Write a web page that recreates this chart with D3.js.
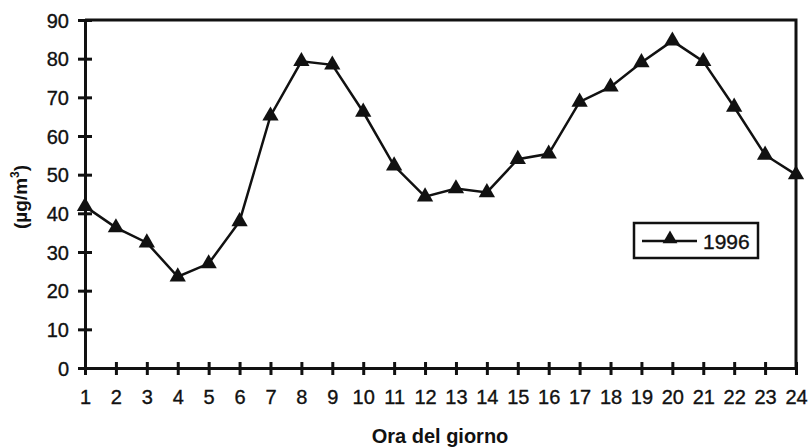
<!DOCTYPE html>
<html lang="it">
<head>
<meta charset="UTF-8">
<script src="https://d3js.org/d3.v7.min.js"></script>
<style>
  body { margin: 0; background: #fff; }
  svg text { font-family: "Liberation Sans", Arial, sans-serif; fill: #111; }
  .tick text { stroke: #111; stroke-width: 0.35px; }
  .line { fill: none; stroke: #111; stroke-width: 2.5px; }
</style>
</head>
<body>
<script>
// hours of the day and concentration values (µg/m3)
var hours = d3.range(1, 25);
var values1996 = [41.8, 36.3, 32.4, 23.6, 27, 37.9, 65.2, 79.3, 78.4, 66.2, 52.3, 44.3,
                  46.4, 45.4, 54, 55.4, 68.8, 72.7, 79, 84.6, 79.3, 67.5, 55.1, 50];
var yTicks = [0, 10, 20, 30, 40, 50, 60, 70, 80, 90];
var seriesName = "1996";

var W = 809, H = 448;
var margin = {top: 20, right: 13, bottom: 80, left: 85};
var width = W - margin.left - margin.right,
    height = H - margin.top - margin.bottom;

var svg = d3.select("body").append("svg")
  .attr("width", W).attr("height", H);
var g = svg.append("g")
  .attr("transform", "translate(" + margin.left + "," + margin.top + ")");

var x = d3.scaleLinear().domain([1, 24]).range([0, width]);
var y = d3.scaleLinear().domain([0, 90]).range([height, 0]);

// frame: top and right border
g.append("path")
  .attr("d", "M0,0H" + width + "V" + height)
  .attr("fill", "none").attr("stroke", "#111").attr("stroke-width", 3);

// y axis with ticks crossing the line
var yAxis = g.append("g").attr("class", "axis")
  .call(d3.axisLeft(y).tickValues(yTicks).tickSize(7).tickPadding(9).tickSizeOuter(0));
yAxis.selectAll(".tick line").attr("x2", 7).attr("x1", -7);
yAxis.selectAll("text").style("font-size", "20px").attr("dy", "0.36em");

var xAxis = g.append("g").attr("class", "axis")
  .attr("transform", "translate(0," + height + ")")
  .call(d3.axisBottom(x).tickValues(hours).tickFormat(d3.format("d")).tickSize(7).tickPadding(15).tickSizeOuter(0));
xAxis.selectAll(".tick line").attr("y1", -6).attr("y2", 7);
xAxis.selectAll("text").style("font-size", "20px");
g.selectAll(".axis path, .axis line").attr("stroke", "#111").attr("stroke-width", 3);
g.selectAll(".axis text").attr("fill", "#111");

// series line
var line = d3.line()
  .x(function(d, i) { return x(hours[i]); })
  .y(function(d) { return y(d); });
g.append("path").datum(values1996).attr("class", "line").attr("d", line);

var tri = d3.symbol().type(d3.symbolTriangle).size(115);
g.selectAll(".pt").data(values1996).enter().append("path")
  .attr("class", "pt")
  .attr("d", tri)
  .attr("fill", "#111")
  .attr("transform", function(d, i) { return "translate(" + x(hours[i]) + "," + y(d) + ")"; });

// legend
var lg = svg.append("g").attr("transform", "translate(634,223)");
lg.append("rect").attr("width", 124).attr("height", 35)
  .attr("fill", "#fff").attr("stroke", "#111").attr("stroke-width", 2.5);
lg.append("line").attr("x1", 8).attr("x2", 63).attr("y1", 18).attr("y2", 18)
  .attr("stroke", "#111").attr("stroke-width", 2.5);
lg.append("path").attr("d", d3.symbol().type(d3.symbolTriangle).size(95))
  .attr("fill", "#111").attr("transform", "translate(36,16)");
lg.append("text").attr("x", 69).attr("y", 26)
  .style("font-size", "21px").style("stroke", "#111").style("stroke-width", "0.35px")
  .text(seriesName);

// axis titles
svg.append("text")
  .attr("text-anchor", "middle")
  .attr("x", 440).attr("y", 443)
  .style("font-size", "20px").style("font-weight", "bold")
  .text("Ora del giorno");

var yl = svg.append("text")
  .attr("text-anchor", "middle")
  .attr("transform", "translate(27,197) rotate(-90)")
  .style("font-size", "19px").style("font-weight", "bold");
yl.append("tspan").text("(µg/m");
yl.append("tspan").attr("dy", -8).style("font-size", "12px").text("3");
yl.append("tspan").attr("dy", 8).text(")");
</script>
</body>
</html>
